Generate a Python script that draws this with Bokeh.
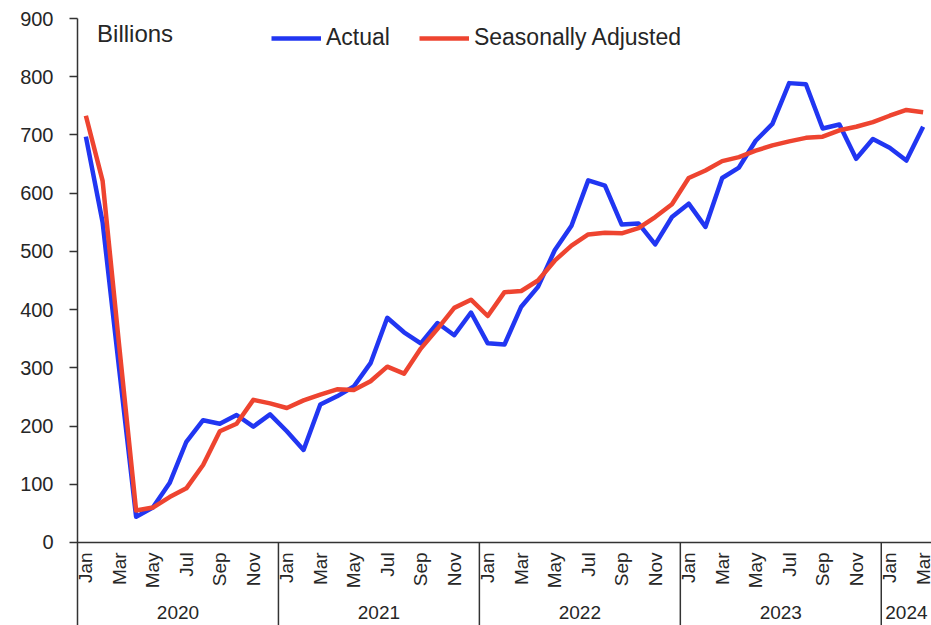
import math
from bokeh.plotting import figure
from bokeh.models import (ColumnDataSource, FixedTicker, Span, Label, Legend, LegendItem, Range1d)
from bokeh.core.properties import value
from bokeh.embed import file_html
from bokeh.resources import INLINE

# ---------------- data ----------------
month_names = ["Jan", "Feb", "Mar", "Apr", "May", "Jun", "Jul", "Aug", "Sep", "Oct", "Nov", "Dec"]
years = [2020, 2021, 2022, 2023, 2024]
months_in_year = [12, 12, 12, 12, 3]

actual = [697, 550, 295, 44, 60, 102, 173, 210, 204, 219, 199, 220,
          191, 159, 237, 251, 268, 308, 386, 361, 342, 377, 356, 395,
          342, 340, 405, 439, 502, 544, 622, 613, 546, 548, 512, 559,
          582, 542, 626, 644, 690, 719, 789, 787, 711, 718, 659, 693,
          678, 656, 714]
seasonally_adjusted = [733, 621, 335, 55, 60, 78, 93, 133, 191, 204, 245, 239,
                       231, 244, 254, 263, 262, 277, 302, 290, 333, 367, 403, 417,
                       389, 430, 432, 450, 484, 510, 529, 532, 531, 540, 559, 581,
                       626, 639, 655, 662, 673, 682, 689, 695, 697, 708, 714, 722,
                       733, 743, 739]
y_ticks = [0, 100, 200, 300, 400, 500, 600, 700, 800, 900]

# ---------------- derived ----------------
n = len(actual)
xs = list(range(n))
month_label = []
for y, cnt in zip(years, months_in_year):
    month_label += month_names[:cnt]

FONT = "Liberation Sans"
TXT = "#262626"
AX = "#333333"

x_lo, x_hi = -0.5, n - 0.5
y_lo = -142.6
p = figure(width=931, height=625, output_backend="svg", toolbar_location=None,
           x_range=Range1d(x_lo, x_hi), y_range=Range1d(y_lo, 900),
           x_axis_location=None, min_border_left=77, min_border_right=0,
           min_border_top=18, min_border_bottom=0)
p.outline_line_color = None
p.xgrid.visible = False
p.ygrid.visible = False
p.background_fill_color = "white"

# y axis
ax = p.yaxis[0]
ax.ticker = FixedTicker(ticks=y_ticks)
ax.minor_tick_line_color = None
ax.major_tick_in = 0
ax.major_tick_out = 8
ax.major_tick_line_color = AX
ax.major_tick_line_width = 1.5
ax.axis_line_color = AX
ax.axis_line_width = 1.5
ax.major_label_standoff = 16
ax.major_label_text_font = FONT
ax.major_label_text_font_size = "20px"
ax.major_label_text_color = TXT

# x axis line at zero
p.add_layout(Span(location=0, dimension="width", line_color=AX, line_width=1.5))

# series
src = ColumnDataSource(dict(x=xs, actual=actual, sa=seasonally_adjusted))
r_act = p.line("x", "actual", source=src, line_color="#2136f2", line_width=4.5, line_join="round")
r_sa = p.line("x", "sa", source=src, line_color="#ee4430", line_width=4.5, line_join="round")

# month labels (every other month)
lab_x = [i for i in xs if (month_names.index(month_label[i]) % 2 == 0)]
msrc = ColumnDataSource(dict(x=lab_x, y=[-17] * len(lab_x), t=[month_label[i] for i in lab_x]))
p.text("x", "y", text="t", source=msrc, angle=math.pi / 2, text_align="right",
       text_baseline="middle", text_font=value(FONT), text_font_size="19px", text_color=TXT)

# year separators and labels
starts = []
s = 0
for cnt in months_in_year:
    starts.append(s)
    s += cnt
sep_x = [st - 0.5 for st in starts[1:]]
p.segment(x0=sep_x, y0=[0] * len(sep_x), x1=sep_x, y1=[y_lo] * len(sep_x), line_color=AX, line_width=1.5)
year_cx = [(max(st - 0.5, x_lo) + min(st + cnt - 0.5, x_hi)) / 2 for st, cnt in zip(starts, months_in_year)]
ysrc = ColumnDataSource(dict(x=year_cx, y=[-120] * len(years), t=[str(y) for y in years]))
p.text("x", "y", text="t", source=ysrc, text_align="center", text_baseline="middle",
       text_font=value(FONT), text_font_size="19px", text_color=TXT)

# unit label
p.add_layout(Label(x=0.67, y=874, text="Billions", text_baseline="middle", text_font=FONT,
                   text_font_size="24px", text_color=TXT))

# legend
legend = Legend(items=[LegendItem(label="Actual", renderers=[r_act]),
                       LegendItem(label="Seasonally Adjusted", renderers=[r_sa])],
                orientation="horizontal", location=(194, 574),
                glyph_width=50, glyph_height=20, label_standoff=5, spacing=29,
                padding=0, margin=0, border_line_color=None, background_fill_alpha=0,
                label_text_font=FONT, label_text_font_size="23px", label_text_color=TXT)
p.add_layout(legend)

open("out.html", "w").write(file_html(p, INLINE))
